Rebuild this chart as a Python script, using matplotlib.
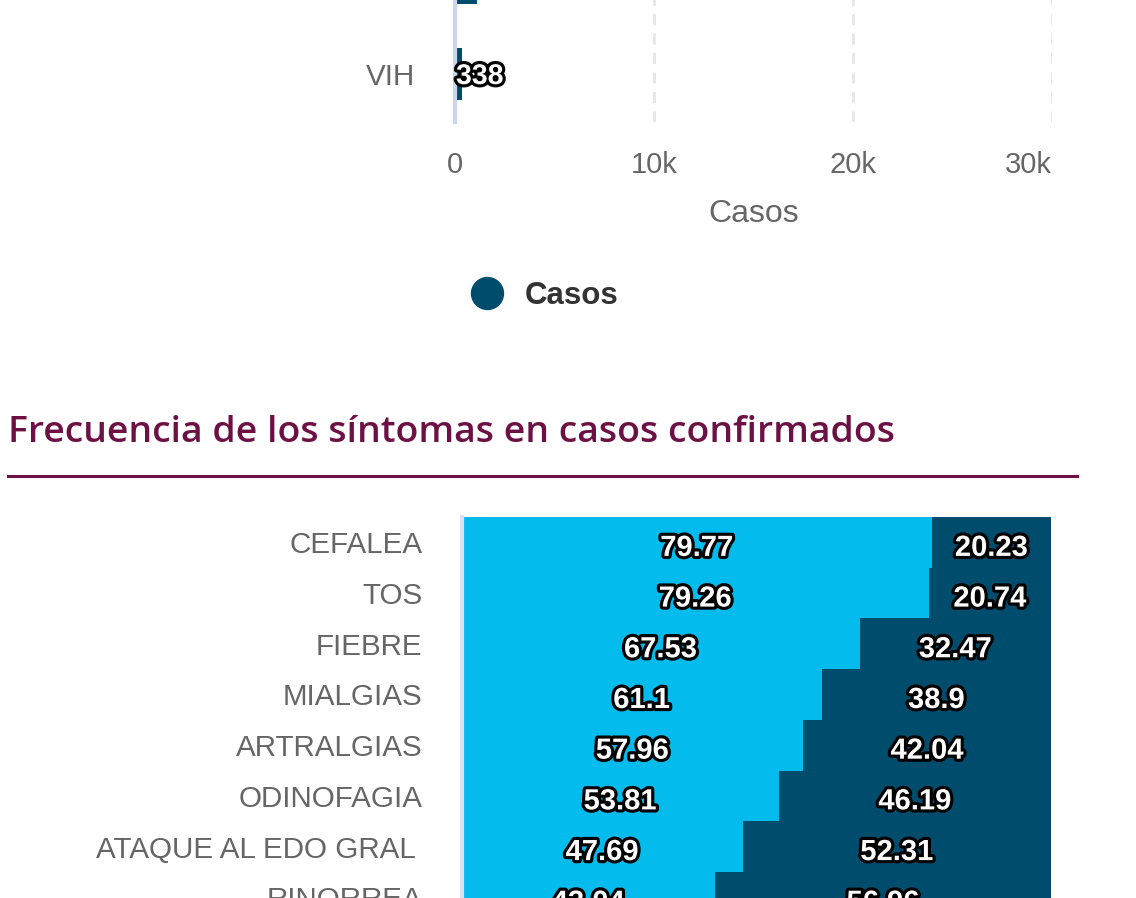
import matplotlib.pyplot as plt
import matplotlib.patheffects as pe
from matplotlib.lines import Line2D

# datos - grafica de comorbilidades (solo se ve el final)
comorb = ["INMUNOSUPRESION", "VIH"]
casos = [1100, 338]
xticks = [0, 10000, 20000, 30000]
xtick_labels = ["0", "10k", "20k", "30k"]

# datos - frecuencia de sintomas (%)
sintomas = ["CEFALEA", "TOS", "FIEBRE", "MIALGIAS", "ARTRALGIAS",
            "ODINOFAGIA", "ATAQUE AL EDO GRAL ", "RINORREA"]
pct_si = [79.77, 79.26, 67.53, 61.1, 57.96, 53.81, 47.69, 43.04]
pct_no = [20.23, 20.74, 32.47, 38.9, 42.04, 46.19, 52.31, 56.96]

oscuro = "#004c6d"
claro = "#03bbec"
gris = "#666666"
morado = "#6d1145"

plt.rcParams['font.family'] = ['Liberation Sans', 'DejaVu Sans']

W, H = 1136, 898
fig = plt.figure(figsize=(W / 100, H / 100), dpi=100)

def caja(x0, y0, x1, y1):  # pixeles -> coords figura
    return [x0 / W, 1 - y1 / H, (x1 - x0) / W, (y1 - y0) / H]

contorno = [pe.withStroke(linewidth=4.5, foreground="black")]

# ---- grafica de arriba
ax1 = fig.add_axes(caja(455, -70, 1052, 122))
ax1.barh(range(len(comorb)), casos, height=0.55, color=oscuro)
ax1.set_ylim(len(comorb) - 0.5, -0.5)
ax1.set_xlim(0, 30000)
ax1.set_yticks(range(len(comorb)))
ax1.set_yticklabels(comorb, fontsize=21.3, color=gris)
for t in ax1.get_yticklabels():
    t.set_verticalalignment("center_baseline")
ax1.set_xticks(xticks)
ax1.set_xticklabels(xtick_labels, fontsize=21, color=gris)
ax1.get_xticklabels()[-1].set_horizontalalignment("right")
ax1.tick_params(axis="y", length=0, pad=29)
ax1.tick_params(axis="x", length=0, pad=21)
ax1.grid(axis="x", color="#e6e6e6", linestyle=(0, (4, 3)), linewidth=2)
ax1.set_axisbelow(True)
for s in ["top", "right", "bottom"]:
    ax1.spines[s].set_visible(False)
ax1.spines["left"].set_color("#ccd6eb")
ax1.spines["left"].set_linewidth(3)
ax1.set_xlabel("Casos", fontsize=23, color=gris, labelpad=14)
for i, v in enumerate(casos):
    ax1.text(50, i, str(v), ha="left", va="center_baseline", fontsize=20.5,
             fontweight="bold", color="white", path_effects=contorno)

ax1.legend(handles=[Line2D([], [], marker="o", ls="", color=oscuro, markersize=23)],
           labels=["Casos"], loc="center", bbox_to_anchor=(537 / W, 1 - 296 / H),
           bbox_transform=fig.transFigure, frameon=False, handletextpad=0.2,
           prop={"weight": "bold", "size": 22.5}, labelcolor="#333333")

# ---- titulo
fig.text(8 / W, 1 - 433 / H, "Frecuencia de los síntomas en casos confirmados",
         family="Open Sans", fontweight="semibold", fontsize=26.9, color=morado,
         va="center", ha="left")
fig.add_artist(Line2D([8 / W, 1077 / W], [1 - 476 / H, 1 - 476 / H],
                      color=morado, linewidth=2.2))

# ---- grafica de abajo (100% apilada)
ax2 = fig.add_axes(caja(461.5, 517, 1051, 517 + 50.7 * len(sintomas)))
y = range(len(sintomas))
ax2.barh(y, pct_si, height=1.0, color=claro, linewidth=0)
ax2.barh(y, pct_no, left=pct_si, height=1.0, color=oscuro, linewidth=0)
ax2.set_xlim(0, 100)
ax2.set_ylim(len(sintomas) - 0.5, -0.5)
ax2.set_yticks(list(y))
ax2.set_yticklabels(sintomas, fontsize=21.3, color=gris)
for t in ax2.get_yticklabels():
    t.set_verticalalignment("center_baseline")
ax2.tick_params(axis="y", length=0, pad=28)
ax2.set_xticks([])
for s in ["top", "right", "bottom"]:
    ax2.spines[s].set_visible(False)
ax2.spines["left"].set_color("#e0e0ee")
ax2.spines["left"].set_linewidth(3)
for i in y:
    ax2.text(pct_si[i] / 2, i + 0.05, f"{pct_si[i]:g}", ha="center", va="center_baseline",
             fontsize=21, fontweight="bold", color="white", path_effects=contorno)
    ax2.text(pct_si[i] + pct_no[i] / 2, i + 0.05, f"{pct_no[i]:g}", ha="center",
             va="center_baseline", fontsize=21, fontweight="bold", color="white",
             path_effects=contorno)

fig.savefig("out.png", dpi=100)
